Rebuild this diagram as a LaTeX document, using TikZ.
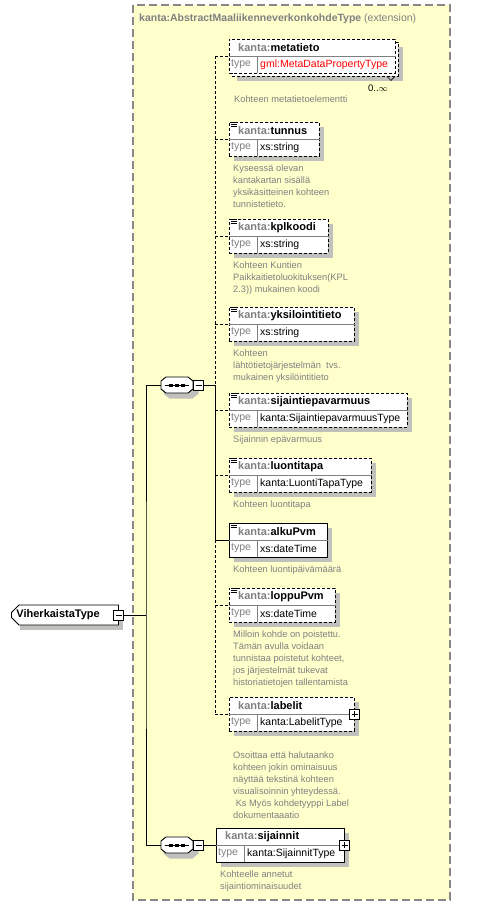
\documentclass[tikz,border=0pt]{standalone}
\usepackage{fontspec}
\setmainfont{Liberation Sans}
\usetikzlibrary{positioning,calc,shapes.misc}
\definecolor{extfill}{RGB}{255,255,204}
\definecolor{extline}{RGB}{136,136,136}
\definecolor{pfx}{RGB}{128,128,128}
\definecolor{note}{RGB}{128,128,128}
\definecolor{shadowc}{RGB}{192,192,188}
% element box: [box style] name, west point, width, element, type
\newcommand{\xelem}[6][]{%
  \draw[shd] ($(#3)+(#4,0)+(2.5,-12)$) -- ($(#3)+(#4,0)+(2.5,19.5)$) -- ($(#3)+(5,19.5)$);
  \node[elbox,#1,minimum width=#4] (#2) at (#3) {};
  \draw[sep] ([yshift=-18pt]#2.north west) -- ([yshift=-18pt]#2.north east)
    ([xshift=28pt,yshift=-18pt]#2.north west) -- ([xshift=28pt]#2.south west);
  \node[hdr] (#2-h) at ([xshift=9pt,yshift=-9pt]#2.north west) {\textcolor{pfx}{kanta:}#5};
  \node[typ,text=pfx] (#2-k) at ([xshift=2pt,yshift=-26pt]#2.north west) {type};
  \node[typ] (#2-t) at ([xshift=31pt,yshift=-26pt]#2.north west) {#6};
}
\newcommand{\simpleicon}[1]{%
  \foreach \k in {1.2,3.2,5.2} \draw[line width=.8pt] ([shift={(1.5pt,-\k pt)}]#1.north west) -- ++(6pt,0pt);
}
% sequence compositor: name, centre
\newcommand{\seqnode}[2]{%
  \draw[shd,line width=3pt,fill=shadowc] ($(#2)+(4,4)$) +(-11,-8) -- +(11,-8) -- +(16,-4) -- +(16,4) -- +(11,8) -- +(-11,8) -- +(-16,4) -- +(-16,-4) -- cycle;
  \draw[lnk,fill=white] (#2) +(-11,-8) -- +(11,-8) -- +(16,-4) -- +(16,4) -- +(11,8) -- +(-11,8) -- +(-16,4) -- +(-16,-4) -- cycle;
  \node[seqbox] (#1) at (#2) {};
  \draw[lnk] ([xshift=4pt]#1.west) -- ([xshift=-4pt]#1.east);
  \foreach \d in {-6,0,6} \fill ([xshift=\d pt]#1.center) +(-2pt,-1.5pt) rectangle +(2pt,1.5pt);
  \node[minusbox,anchor=west] (#1-m) at (#1.east) {};
}
\begin{document}
\begin{tikzpicture}[x=1pt,y=-1pt,
  ext/.style={draw=extline,fill=extfill,line width=1.2pt,dash pattern=on 8pt off 4pt},
  shd/.style={draw=shadowc,line width=5pt,line cap=butt,line join=miter},
  elbox/.style={draw,fill=white,line width=.9pt,anchor=west,inner sep=0pt,minimum height=34pt},
  dsh/.style={dash pattern=on 3pt off 2pt},
  hdr/.style={anchor=west,inner sep=0pt,font=\fontsize{11}{12}\selectfont\bfseries},
  typ/.style={anchor=west,inner sep=0pt,font=\fontsize{10.5}{12}\selectfont},
  desc/.style={anchor=north west,inner sep=0pt,align=left,text=note,font=\fontsize{9.3}{12}\selectfont},
  sep/.style={draw=pfx,line width=.8pt},
  lnk/.style={line width=.9pt},
  seqbox/.style={inner sep=0pt,minimum width=32pt,minimum height=16pt},
  minusbox/.style={draw,fill=white,line width=.9pt,minimum size=10pt,inner sep=0pt,
    path picture={\draw ([xshift=2pt]path picture bounding box.west) -- ([xshift=-2pt]path picture bounding box.east);}},
  plusbox/.style={minusbox,
    path picture={\draw ([xshift=2pt]path picture bounding box.west) -- ([xshift=-2pt]path picture bounding box.east)
      ([yshift=2pt]path picture bounding box.south) -- ([yshift=-2pt]path picture bounding box.north);}},
  rootbox/.style={chamfered rectangle,chamfered rectangle corners={north west,south west},chamfered rectangle xsep=4pt,
    draw,fill=white,line width=.9pt,anchor=west,minimum height=20pt,text width=97pt,inner xsep=1pt,inner ysep=0pt,
    font=\fontsize{11}{12}\selectfont\bfseries}]
\useasboundingbox (0,0) rectangle (493,908);
\draw[ext] (133,5) rectangle (450,900);
\node[anchor=west,inner sep=0pt,text=pfx,font=\fontsize{10.5}{12}\selectfont] (title) at (139,19)
  {\textbf{kanta:AbstractMaaliikenneverkonkohdeType} (extension)};

\draw[shd] (400.5,47) -- (400.5,78.5) -- (237,78.5);
\node[elbox,dsh,minimum width=166pt] (metaback) at (232,59) {};
\node[elbox,dsh,minimum width=166pt] (metatieto) at (229,56) {};
\draw[sep] ([yshift=-18pt]metatieto.north west) -- ([yshift=-18pt]metatieto.north east)
  ([xshift=28pt,yshift=-18pt]metatieto.north west) -- ([xshift=28pt]metatieto.south west);
\node[hdr] (metatieto-h) at ([xshift=9pt,yshift=-9pt]metatieto.north west) {\textcolor{pfx}{kanta:}metatieto};
\node[typ,text=pfx] (metatieto-k) at ([xshift=2pt,yshift=-26pt]metatieto.north west) {type};
\node[typ,text=red] (metatieto-t) at ([xshift=31pt,yshift=-26pt]metatieto.north west) {gml:MetaDataPropertyType};
\draw[line width=.6pt] ([xshift=-12pt]metaback.south east) -- ++(4,4) -- ++(4,-4);
\node[inner sep=0pt,font=\fontsize{9.5}{10}\selectfont] (mult) at (378,88) {0..$\infty$};

\xelem[dsh]{tunnus}{229,139}{90pt}{tunnus}{xs:string}
\xelem[dsh]{kplkoodi}{229,236}{99pt}{kplkoodi}{xs:string}
\xelem[dsh]{yksilointitieto}{229,324}{125pt}{yksilointitieto}{xs:string}
\xelem[dsh]{sijaintiepavarmuus}{229,410}{178pt}{sijaintiepavarmuus}{kanta:SijaintiepavarmuusType}
\xelem[dsh]{luontitapa}{229,475}{142pt}{luontitapa}{kanta:LuontiTapaType}
\xelem{alkuPvm}{229,540}{98pt}{alkuPvm}{xs:dateTime}
\xelem[dsh]{loppuPvm}{229,605}{106pt}{loppuPvm}{xs:dateTime}
\xelem[dsh]{labelit}{229,714}{125pt}{labelit}{kanta:LabelitType}
\xelem{sijainnit}{216,845}{128pt}{sijainnit}{kanta:SijainnitType}
\foreach \e in {tunnus,kplkoodi,yksilointitieto,sijaintiepavarmuus,luontitapa,alkuPvm,loppuPvm} {\simpleicon{\e}}
\node[plusbox] (labelit-p) at (labelit.east) {};
\node[plusbox] (sijainnit-p) at (sijainnit.east) {};

\node[desc] (metatieto-d) at ([shift={(5pt,-22pt)}]metatieto.south west) {Kohteen metatietoelementti};
\node[desc] (tunnus-d) at ([shift={(4pt,-8pt)}]tunnus.south west) {Kyseessä olevan\\kantakartan sisällä\\yksikäsitteinen kohteen\\tunnistetieto.};
\node[desc] (kplkoodi-d) at ([shift={(4pt,-8pt)}]kplkoodi.south west) {Kohteen Kuntien\\Paikkaitietoluokituksen(KPL\\2.3)) mukainen koodi};
\node[desc] (yksilointitieto-d) at ([shift={(4pt,-8pt)}]yksilointitieto.south west) {Kohteen\\lähtötietojärjestelmän\ \ tvs.\\mukainen yksilöintitieto};
\node[desc] (sijaintiepavarmuus-d) at ([shift={(4pt,-8pt)}]sijaintiepavarmuus.south west) {Sijainnin epävarmuus};
\node[desc] (luontitapa-d) at ([shift={(4pt,-8pt)}]luontitapa.south west) {Kohteen luontitapa};
\node[desc] (alkuPvm-d) at ([shift={(4pt,-8pt)}]alkuPvm.south west) {Kohteen luontipäivämäärä};
\node[desc] (loppuPvm-d) at ([shift={(4pt,-8pt)}]loppuPvm.south west) {Milloin kohde on poistettu.\\Tämän avulla voidaan\\tunnistaa poistetut kohteet,\\jos järjestelmät tukevat\\historiatietojen tallentamista};
\node[desc] (labelit-d) at ([shift={(4pt,-20pt)}]labelit.south west) {Osoittaa että halutaanko\\kohteen jokin ominaisuus\\näyttää tekstinä kohteen\\visualisoinnin yhteydessä.\\\ Ks Myös kohdetyyppi Label\\dokumentaaatio};
\node[desc] (sijainnit-d) at ([shift={(4pt,-8pt)}]sijainnit.south west) {Kohteelle annetut\\sijaintiominaisuudet};

\draw[shd] (120.5,610) -- (120.5,627.5) -- (20,627.5);
\node[rootbox] (root) at (11,615) {ViherkaistaType};
\node[minusbox] (root-m) at (root.east) {};
\seqnode{seqA}{177,385}
\seqnode{seqB}{177,845}
\coordinate (fork) at (146,615);
\coordinate (trunk) at (215,385);

\draw[lnk] (root-m.east) -- (fork);
\draw[lnk] (seqA.west) -| (fork) |- (seqB.west);
\draw[lnk] (seqA-m.east) -- (trunk);
\draw[lnk] (seqB-m.east) -- (sijainnit.west);
\draw[lnk,dsh] (metatieto.west -| trunk) -- (trunk);
\draw[lnk] (trunk) -- (alkuPvm.west -| trunk) -- (alkuPvm.west);
\draw[lnk,dsh] (alkuPvm.west -| trunk) -- (labelit.west -| trunk);
\foreach \e in {metatieto,tunnus,kplkoodi,yksilointitieto,sijaintiepavarmuus,luontitapa,loppuPvm,labelit}
  \draw[lnk,dsh] (\e.west -| trunk) -- (\e.west);
\end{tikzpicture}
\end{document}
